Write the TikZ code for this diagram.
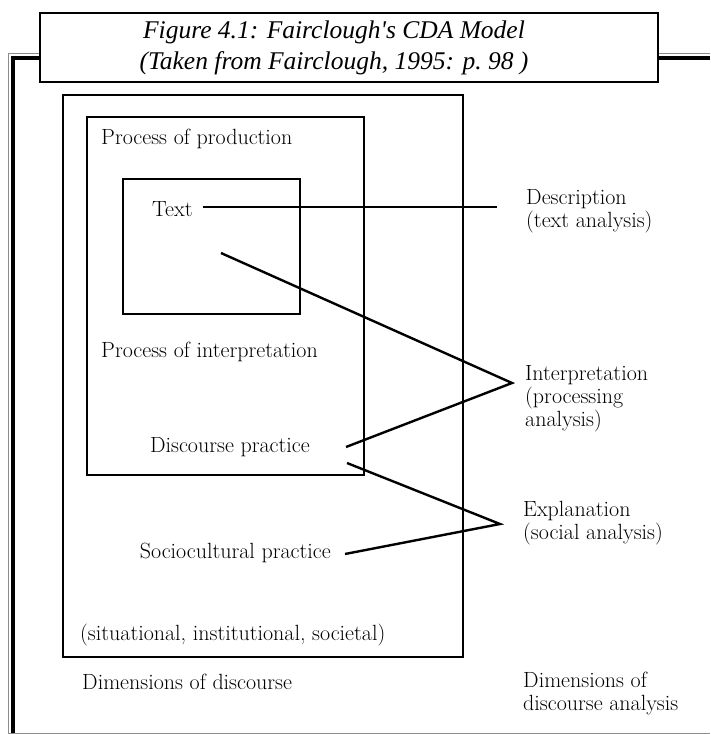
\documentclass[tikz,border=0pt]{standalone}
\usepackage{fontspec}
\newfontfamily\capfont{Liberation Serif}
\usetikzlibrary{positioning}

\begin{document}
\begin{tikzpicture}[x=1pt, y=-1pt,
        lbl/.style={anchor=west, inner sep=0pt, align=left,
                    font=\fontsize{22}{23}\selectfont},
        frm/.style={draw=black, line width=2.2pt},
        link/.style={line width=2.4pt},
        capline/.style={font=\capfont\itshape\fontsize{25.5}{31}\selectfont, align=center},
      ]
        \useasboundingbox (0,0) rectangle (710,734);
        % page border
        \draw[black!45, line width=0.9pt] (8.5,734) -- (8.5,53.5) -- (40,53.5);
        \draw[black!45, line width=0.9pt] (658,53.5) -- (710,53.5);
        \draw[line width=4pt] (13,734) -- (13,58) -- (40,58);
        \draw[line width=4pt] (658,58) -- (710,58);
        \draw[black!45, line width=0.9pt] (8.5,733) -- (710,733);
        % caption
        \node[draw, line width=1.2pt, fill=white, minimum width=618pt, minimum height=69pt] (cap) at (349,47.5) {};
        \node[capline] (capTxt) at (334,47.5)
              {Figure 4.1: Fairclough's CDA Model\\(Taken from Fairclough, 1995: p.~98 )};
        % nested boxes
        \draw[frm] (63,95) rectangle (463,657);
        \draw[frm, line width=2pt] (87,117) rectangle (364,475);
        \draw[frm, line width=2.4pt] (123,179) rectangle (300,314);
        % dimensions of discourse
        \node[lbl] (prod) at (101,139) {Process of production};
        \node[lbl] (txt) at (152,209) {Text};
        \node[lbl] (interp) at (101,352) {Process of interpretation};
        \node[lbl, anchor=east] (dp) at (310,447) {Discourse practice};
        \node[lbl, anchor=east] (scp) at (331,553) {Sociocultural practice};
        \node[lbl] (sit) at (80,635) {(situational, institutional, societal)};
        \node[lbl] (dim) at (82,682) {Dimensions of discourse};
        % dimensions of discourse analysis
        \node[lbl] (descr) at (526,211) {Description\\(text analysis)};
        \node[lbl] (proc) at (525,399) {Interpretation\\(processing\\analysis)};
        \node[lbl] (expl) at (523,523) {Explanation\\(social analysis)};
        \node[lbl] (dimA) at (523,694) {Dimensions of\\discourse analysis};
        % connectors
        \coordinate (dEnd) at (497,207);
        \coordinate (iTop) at (221,253);
        \coordinate (iTip) at (512,383);
        \coordinate (eTip) at (500,524);
        \draw[link] (txt.east |- dEnd) ++(10,0) -- (dEnd);
        \draw[link] (iTop) -- (iTip) -- ([xshift=36pt]dp.east);
        \draw[link] ([xshift=37pt,yshift=-16pt]dp.east) -- (eTip) -- ([xshift=14pt,yshift=-1pt]scp.east);
      \end{tikzpicture}
\end{document}
